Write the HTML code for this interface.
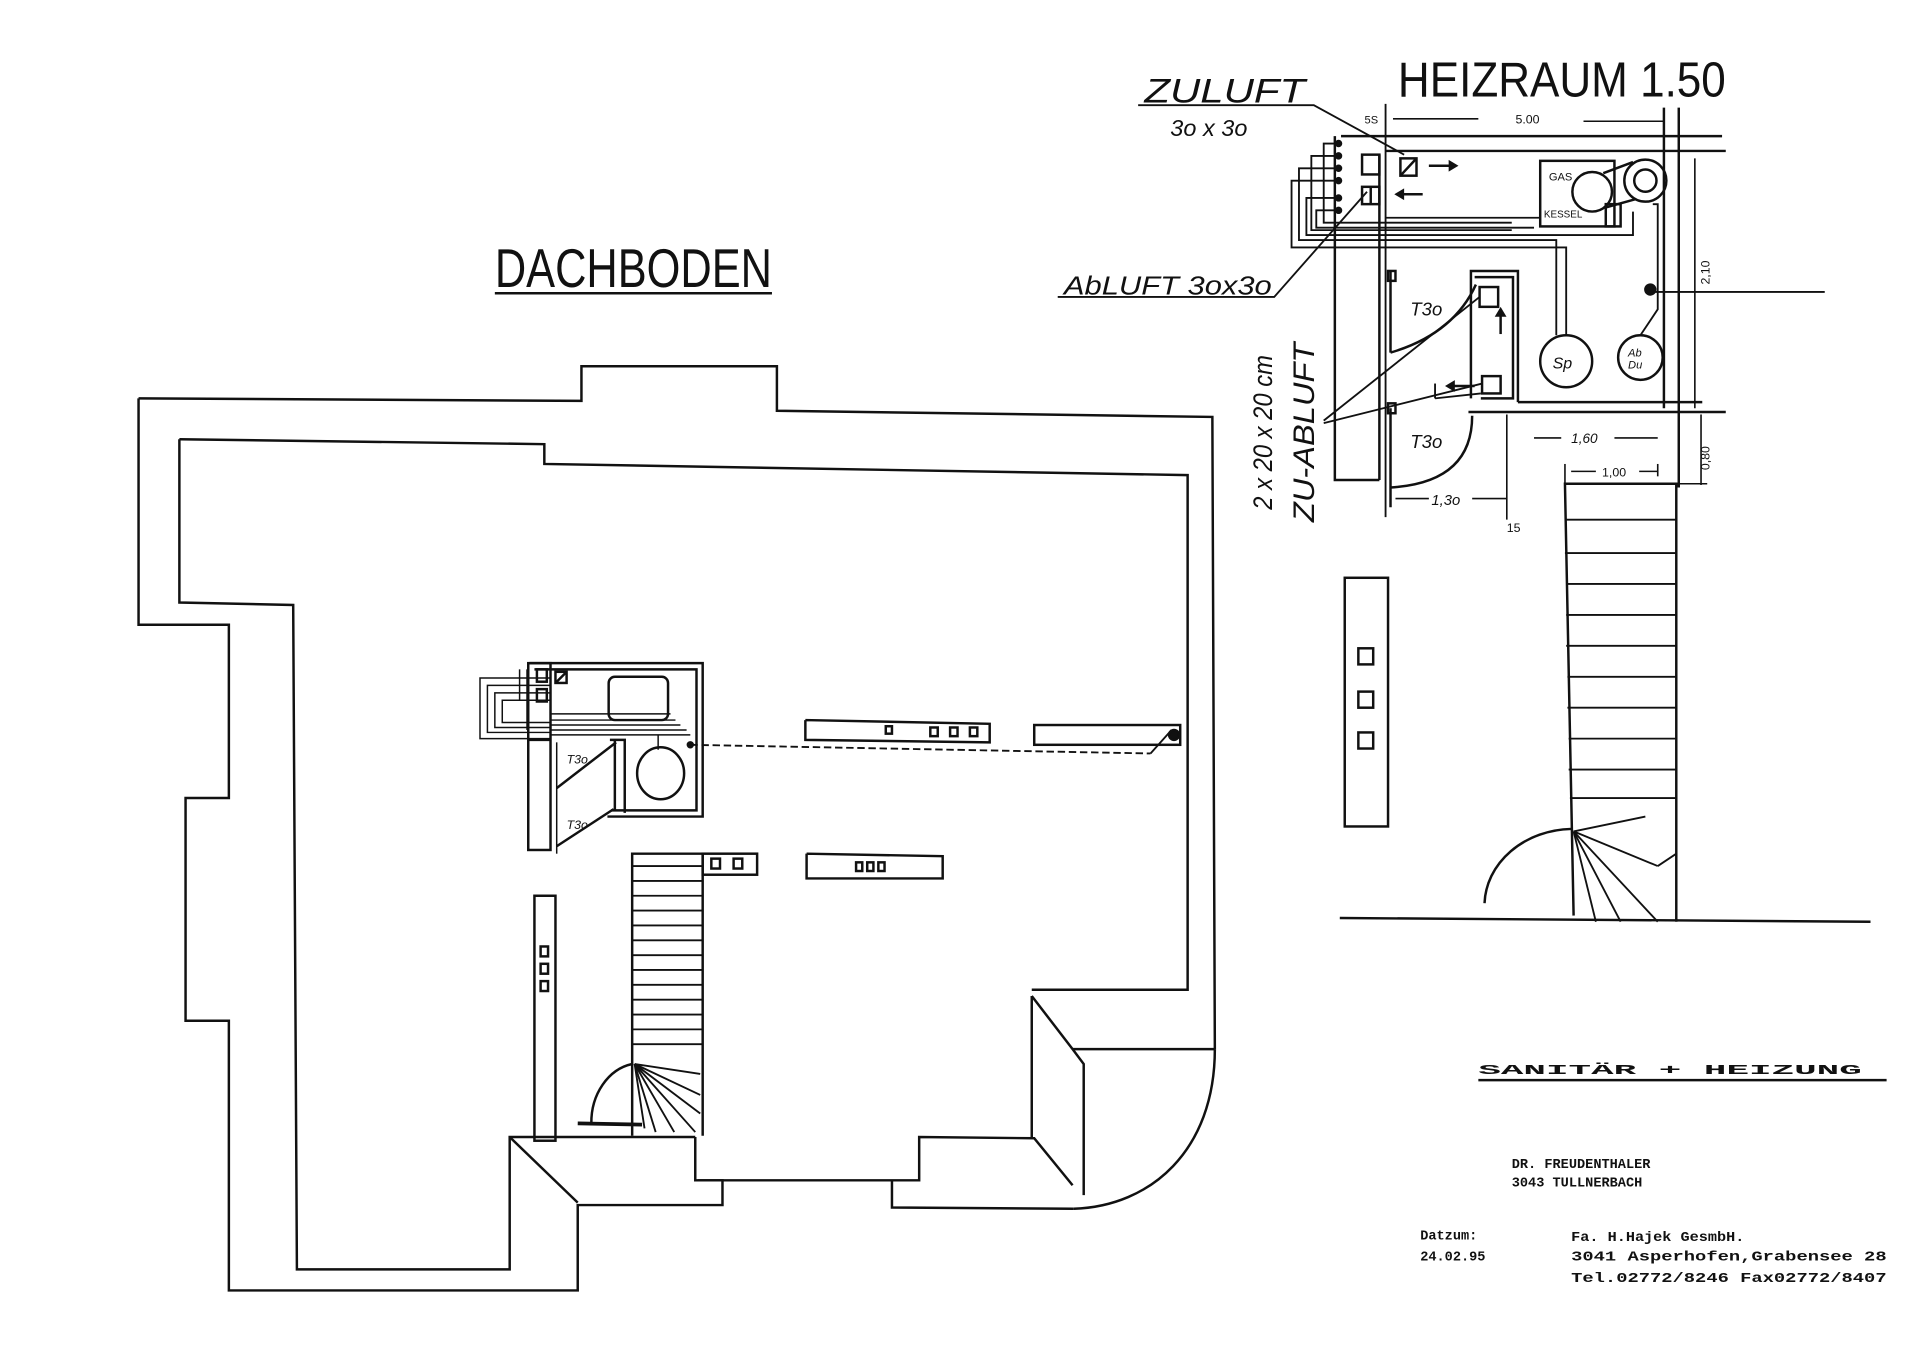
<!DOCTYPE html>
<html><head><meta charset="utf-8"><style>
html,body{margin:0;padding:0;background:#fff;}
svg{display:block;}
text{fill:#111;}
.m{font-family:"Liberation Mono",monospace;font-weight:bold;font-size:11px;}
.h{font-family:"Liberation Sans",sans-serif;}
</style></head><body>
<svg width="1920" height="1356" viewBox="0 0 1552 1096" preserveAspectRatio="none" xmlns="http://www.w3.org/2000/svg">
<rect width="1552" height="1096" fill="#fff"/>
<g fill="none" stroke="#111" stroke-width="2" stroke-linejoin="miter">
<polyline points="112,322 470,324 470,296 628,296 628,332 980,337 982,848"/>
<polyline points="112,322 112,505 185,505 185,645 150,645 150,825 185,825 185,1043 467,1043 467,974 584,974 584,954 562,954 562,919"/>
<polyline points="564,954 743,954 743,919 836,920 867,958"/>
<polyline points="721,954 721,976 868,977"/>
<path d="M868,977 C930,975 982,930 982,848"/>
<polyline points="867,848 982,848"/>
<polyline points="834,805 867,848 876,860 876,966"/>
<polyline points="834,805 834,919"/>
<polyline points="145,355 440,359 440,375 960,384 960,800 834,800"/>
<polyline points="145,355 145,487 237,489 240,1026 412,1026 412,919 562,919"/>
<polyline points="412,919 467,972"/>
<polyline points="511,918 511,690 568,690 568,918"/>
<g stroke-width="1.5">
<line x1="511" y1="700" x2="568" y2="700"/><line x1="511" y1="712" x2="568" y2="712"/>
<line x1="511" y1="724" x2="568" y2="724"/><line x1="511" y1="736" x2="568" y2="736"/>
<line x1="511" y1="748" x2="568" y2="748"/><line x1="511" y1="760" x2="568" y2="760"/>
<line x1="511" y1="772" x2="568" y2="772"/><line x1="511" y1="784" x2="568" y2="784"/>
<line x1="511" y1="796" x2="568" y2="796"/><line x1="511" y1="808" x2="568" y2="808"/>
<line x1="511" y1="820" x2="568" y2="820"/><line x1="511" y1="832" x2="568" y2="832"/>
<line x1="511" y1="844" x2="568" y2="844"/>
<line x1="513" y1="860" x2="566" y2="868"/><line x1="513" y1="860" x2="566" y2="885"/>
<line x1="513" y1="860" x2="566" y2="900"/><line x1="513" y1="860" x2="562" y2="915"/>
<line x1="513" y1="860" x2="545" y2="915"/><line x1="513" y1="860" x2="530" y2="915"/>
<line x1="513" y1="860" x2="521" y2="912"/>
</g>
<path d="M511,860 A40,48 0 0 0 478,908"/>
<line x1="467" y1="908" x2="519" y2="909" stroke-width="3"/>
<polyline points="428,536 568,536 568,660 491,660"/>
<polyline points="432,541 563,541 563,655 494,655"/>
<rect x="427" y="536" width="18" height="151"/>
<line x1="427" y1="598" x2="445" y2="598"/>
<g stroke-width="1.2">
<polyline points="445,548 388,548 388,597 445,597"/>
<polyline points="445,554 394,554 394,592 445,592"/>
<polyline points="445,560 400,560 400,588 445,588"/>
<polyline points="445,566 406,566 406,584 445,584"/>
<line x1="445" y1="577" x2="542" y2="577"/>
<line x1="445" y1="582" x2="546" y2="582"/><line x1="445" y1="586" x2="550" y2="586"/>
<line x1="445" y1="590" x2="555" y2="590"/><line x1="445" y1="594" x2="558" y2="594"/>
<line x1="420" y1="541" x2="420" y2="566"/><line x1="426" y1="541" x2="426" y2="590"/>
<line x1="532" y1="594" x2="532" y2="606"/>
</g>
<rect x="492" y="547" width="48" height="35" rx="5"/>
<rect x="434" y="541" width="8" height="10"/><rect x="434" y="557" width="8" height="10"/>
<rect x="449" y="543" width="9" height="9"/><line x1="449" y1="552" x2="458" y2="543"/>
<polyline points="493,598 505,598 505,657"/>
<line x1="497" y1="598" x2="497" y2="655"/>
<ellipse cx="534" cy="625" rx="19" ry="21"/>
<line x1="450" y1="637" x2="498" y2="600"/>
<line x1="450" y1="684" x2="496" y2="654"/>
<line x1="450" y1="600" x2="450" y2="690" stroke-width="1.2"/>
<line x1="558" y1="602" x2="930" y2="609" stroke-dasharray="6,3" stroke-width="1.5"/>
<line x1="930" y1="609" x2="947" y2="590" stroke-width="1.5"/>
<circle cx="949" cy="594" r="4" fill="#111"/>
<circle cx="558" cy="602" r="2" fill="#111"/>
<polyline points="651,582 651,598 800,600 800,585 651,582"/>
<rect x="716" y="587" width="5" height="6"/><rect x="752" y="588" width="6" height="7"/><rect x="768" y="588" width="6" height="7"/><rect x="784" y="588" width="6" height="7"/>
<rect x="836" y="586" width="118" height="16"/>
<polyline points="652,690 652,710 762,710 762,692 652,690"/>
<rect x="692" y="697" width="5" height="7"/><rect x="701" y="697" width="5" height="7"/><rect x="710" y="697" width="5" height="7"/>
<rect x="568" y="690" width="44" height="17"/>
<rect x="575" y="694" width="7" height="8"/><rect x="593" y="694" width="7" height="8"/>
<rect x="432" y="724" width="17" height="198"/>
<rect x="437" y="765" width="6" height="8"/><rect x="437" y="779" width="6" height="8"/><rect x="437" y="793" width="6" height="8"/>

<polyline points="1079,110 1079,388 1115,388"/>
<line x1="1084" y1="110" x2="1392" y2="110"/>
<line x1="1120" y1="122" x2="1395" y2="122"/>
<line x1="1115" y1="125" x2="1115" y2="388"/>
<line x1="1120" y1="84" x2="1120" y2="418" stroke-width="1.5"/>
<line x1="1345" y1="87" x2="1345" y2="330"/>
<line x1="1357" y1="87" x2="1357" y2="394"/>
<polyline points="1227,325 1227,219 1189,219 1189,322"/>
<line x1="1227" y1="325" x2="1376" y2="325"/>
<line x1="1187" y1="333" x2="1395" y2="333"/>
<polyline points="1192,224 1223,224 1223,322 1197,322"/>
<rect x="1196" y="232" width="15" height="16"/>
<rect x="1198" y="304" width="15" height="14"/>
<line x1="1124" y1="219" x2="1124" y2="285"/>
<rect x="1122" y="219" width="6" height="8"/>
<rect x="1122" y="326" width="6" height="8"/>
<path d="M1124,285 Q1175,270 1193,230"/>
<line x1="1124" y1="330" x2="1124" y2="410"/>
<path d="M1124,394 Q1190,390 1190,336"/>
<line x1="1160" y1="310" x2="1160" y2="322" stroke-width="1.5"/>
<line x1="1160" y1="322" x2="1197" y2="318" stroke-width="1.5"/>
<rect x="1245" y="130" width="60" height="53"/>
<circle cx="1287" cy="155" r="16"/>
<circle cx="1330" cy="146" r="17"/><circle cx="1330" cy="146" r="9"/>
<line x1="1296" y1="140" x2="1320" y2="131"/><line x1="1297" y1="168" x2="1322" y2="161"/>
<rect x="1298" y="165" width="12" height="18"/>
<circle cx="1266" cy="292" r="21"/>
<circle cx="1326" cy="289" r="18"/>
<g stroke-width="1.5">
<polyline points="1082,116 1070,116 1070,180 1222,180"/>
<polyline points="1082,126 1060,126 1060,186 1222,186"/>
<polyline points="1082,136 1050,136 1050,194 1258,194 1258,271"/>
<polyline points="1082,146 1044,146 1044,200 1266,200 1266,271"/>
<polyline points="1082,160 1056,160 1056,190 1320,190 1320,171"/>
<polyline points="1082,170 1064,170 1064,184 1240,184"/>
<polyline points="1120,176 1245,176"/>
<polyline points="1336,165 1340,165 1340,250 1326,271"/>
<line x1="1333" y1="236" x2="1475" y2="236"/>
</g>
<circle cx="1334" cy="234" r="4" fill="#111"/>
<circle cx="1082" cy="116" r="2" fill="#111"/><circle cx="1082" cy="126" r="2" fill="#111"/>
<circle cx="1082" cy="136" r="2" fill="#111"/><circle cx="1082" cy="146" r="2" fill="#111"/>
<circle cx="1082" cy="160" r="2" fill="#111"/><circle cx="1082" cy="170" r="2" fill="#111"/>
<rect x="1101" y="125" width="14" height="16"/>
<rect x="1101" y="151" width="14" height="14"/><line x1="1108" y1="151" x2="1108" y2="165"/>
<rect x="1132" y="128" width="13" height="14"/><line x1="1132" y1="142" x2="1145" y2="128"/>
<line x1="1155" y1="134" x2="1172" y2="134"/><path d="M1172,131 L1177,134 L1172,137 Z" fill="#111"/>
<line x1="1134" y1="157" x2="1150" y2="157"/><path d="M1134,154 L1129,157 L1134,160 Z" fill="#111"/>
<line x1="1213" y1="255" x2="1213" y2="270"/><path d="M1210,255 L1213,250 L1216,255 Z" fill="#111"/>
<line x1="1175" y1="312" x2="1192" y2="312"/><path d="M1175,309 L1170,312 L1175,315 Z" fill="#111"/>
<polyline points="920,85 1062,85 1135,125" stroke-width="1.5"/>
<polyline points="855,240 1030,240 1105,155" stroke-width="1.5"/>
<line x1="1070" y1="340" x2="1196" y2="240" stroke-width="1.5"/>
<line x1="1070" y1="342" x2="1198" y2="310" stroke-width="1.5"/>
<g stroke-width="1.3">
<line x1="1126" y1="96" x2="1195" y2="96"/><line x1="1280" y1="98" x2="1345" y2="98"/>
<line x1="1370" y1="128" x2="1370" y2="330"/>
<line x1="1240" y1="354" x2="1262" y2="354"/><line x1="1305" y1="354" x2="1340" y2="354"/>
<line x1="1270" y1="381" x2="1290" y2="381"/><line x1="1325" y1="381" x2="1340" y2="381"/>
<line x1="1340" y1="375" x2="1340" y2="385"/><line x1="1265" y1="375" x2="1265" y2="390"/>
<line x1="1375" y1="335" x2="1375" y2="392"/>
<line x1="1128" y1="403" x2="1155" y2="403"/><line x1="1190" y1="403" x2="1218" y2="403"/>
<line x1="1218" y1="335" x2="1218" y2="420"/>
<line x1="1356" y1="391" x2="1380" y2="391"/>
</g>
<polyline points="1272,740 1265,391 1355,391 1355,745"/>
<g stroke-width="1.5">
<line x1="1265" y1="420" x2="1355" y2="420"/><line x1="1265" y1="447" x2="1355" y2="447"/>
<line x1="1266" y1="472" x2="1355" y2="472"/><line x1="1266" y1="497" x2="1355" y2="497"/>
<line x1="1266" y1="522" x2="1355" y2="522"/><line x1="1267" y1="547" x2="1355" y2="547"/>
<line x1="1267" y1="572" x2="1355" y2="572"/><line x1="1268" y1="597" x2="1355" y2="597"/>
<line x1="1268" y1="622" x2="1355" y2="622"/><line x1="1269" y1="645" x2="1355" y2="645"/>
<line x1="1272" y1="672" x2="1340" y2="700"/><line x1="1340" y1="700" x2="1355" y2="690"/>
<line x1="1272" y1="672" x2="1340" y2="745"/><line x1="1272" y1="672" x2="1310" y2="745"/>
<line x1="1272" y1="672" x2="1290" y2="745"/><line x1="1272" y1="672" x2="1330" y2="660"/>
</g>
<path d="M1270,670 A72,62 0 0 0 1200,730"/>
<line x1="1083" y1="742" x2="1512" y2="745"/>
<rect x="1087" y="467" width="35" height="201"/>
<rect x="1098" y="524" width="12" height="13"/><rect x="1098" y="559" width="12" height="13"/><rect x="1098" y="592" width="12" height="13"/>
<line x1="1195" y1="873" x2="1525" y2="873" stroke-width="2"/>
<line x1="400" y1="237" x2="624" y2="237" stroke-width="2"/>
</g>
<text class="h" x="400" y="232" font-size="44" textLength="224" lengthAdjust="spacingAndGlyphs">DACHBODEN</text>
<text class="h" x="1130" y="78" font-size="40" textLength="265" lengthAdjust="spacingAndGlyphs">HEIZRAUM 1.50</text>
<text class="h" x="925" y="83" font-size="28" textLength="130" lengthAdjust="spacingAndGlyphs" font-style="italic">ZULUFT</text>
<text class="h" x="946" y="110" font-size="19" font-style="italic">3o x 3o</text>
<text class="h" x="860" y="238" font-size="21" textLength="168" lengthAdjust="spacingAndGlyphs" font-style="italic">AbLUFT 3ox3o</text>
<text class="h" font-size="22" font-style="italic" transform="translate(1028,412) rotate(-90)" textLength="125" lengthAdjust="spacingAndGlyphs">2 x 20 x 20 cm</text>
<text class="h" font-size="24" font-style="italic" transform="translate(1062,422) rotate(-90)" textLength="145" lengthAdjust="spacingAndGlyphs">ZU-ABLUFT</text>
<text class="h" x="1140" y="255" font-size="15" font-style="italic">T3o</text>
<text class="h" x="1140" y="362" font-size="15" font-style="italic">T3o</text>
<text class="h" x="458" y="617" font-size="10" font-style="italic">T3o</text>
<text class="h" x="458" y="670" font-size="10" font-style="italic">T3o</text>
<text class="h" x="1252" y="146" font-size="9">GAS</text>
<text class="h" x="1248" y="176" font-size="8">KESSEL</text>
<text class="h" x="1255" y="298" font-size="13" font-style="italic">Sp</text>
<text class="h" x="1316" y="288" font-size="9" font-style="italic">Ab</text>
<text class="h" x="1316" y="298" font-size="9" font-style="italic">Du</text>
<text class="h" x="1103" y="100" font-size="9">5S</text>
<text class="h" x="1225" y="100" font-size="10">5.00</text>
<text class="h" x="1270" y="358" font-size="11" font-style="italic">1,60</text>
<text class="h" x="1295" y="385" font-size="10">1,00</text>
<text class="h" x="1157" y="408" font-size="12" font-style="italic">1,3o</text>
<text class="h" x="1218" y="430" font-size="10">15</text>
<text class="h" font-size="10" transform="translate(1382,230) rotate(-90)">2,10</text>
<text class="h" font-size="10" transform="translate(1382,380) rotate(-90)">0,80</text>
<text class="m" x="1195" y="868" font-size="15" textLength="310" lengthAdjust="spacingAndGlyphs">SANITÄR  +  HEIZUNG</text>
<text class="m" x="1222" y="944" font-size="12">DR. FREUDENTHALER</text>
<text class="m" x="1222" y="959" font-size="12">3043 TULLNERBACH</text>
<text class="m" x="1148" y="1002">Datzum:</text>
<text class="m" x="1148" y="1019">24.02.95</text>
<text class="m" x="1270" y="1003" textLength="140" lengthAdjust="spacingAndGlyphs">Fa. H.Hajek GesmbH.</text>
<text class="m" x="1270" y="1019" textLength="255" lengthAdjust="spacingAndGlyphs">3041 Asperhofen,Grabensee 28</text>
<text class="m" x="1270" y="1036" textLength="255" lengthAdjust="spacingAndGlyphs">Tel.02772/8246 Fax02772/8407</text>
</svg>
</body></html>
